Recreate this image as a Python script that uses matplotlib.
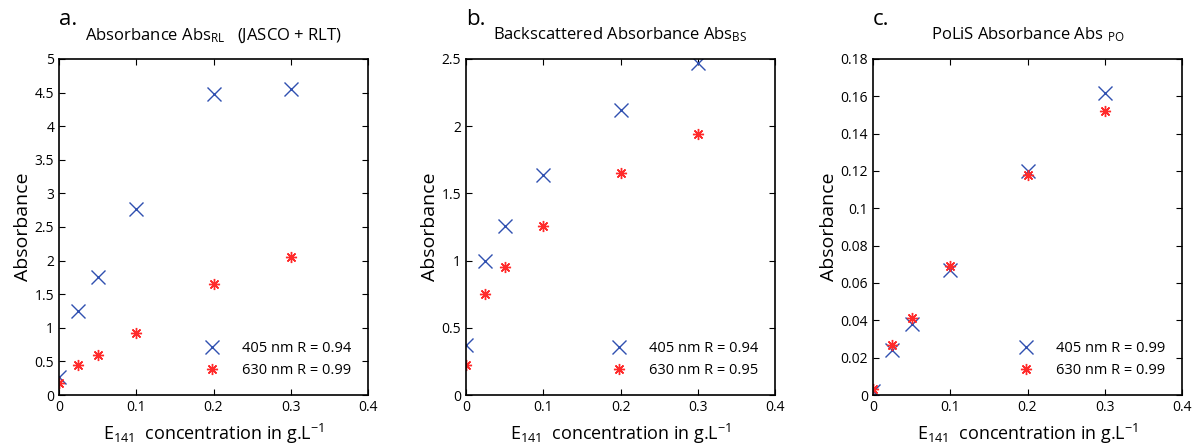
import matplotlib.pyplot as plt

plt.rcParams['font.family'] = ['Open Sans', 'DejaVu Sans']
plt.rcParams['mathtext.fontset'] = 'custom'
plt.rcParams['mathtext.rm'] = 'Open Sans'
plt.rcParams['mathtext.it'] = 'Open Sans'

conc = [0, 0.025, 0.05, 0.1, 0.2, 0.3]

rl_405 = [0.27, 1.25, 1.75, 2.77, 4.48, 4.55]
rl_630 = [0.18, 0.45, 0.60, 0.93, 1.65, 2.05]
bs_405 = [0.37, 1.00, 1.26, 1.64, 2.12, 2.47]
bs_630 = [0.22, 0.75, 0.95, 1.26, 1.65, 1.94]
po_405 = [0.002, 0.024, 0.038, 0.067, 0.120, 0.162]
po_630 = [0.003, 0.027, 0.041, 0.069, 0.118, 0.152]

letters = ['a.', 'b.', 'c.']
titles = [r'Absorbance Abs$_{\mathrm{RL}}$   (JASCO + RLT)',
          r'Backscattered Absorbance Abs$_{\mathrm{BS}}$',
          r'PoLiS Absorbance Abs $_{\mathrm{PO}}$']
leg_405 = ['405 nm R = 0.94', '405 nm R = 0.94', '405 nm R = 0.99']
leg_630 = ['630 nm R = 0.99', '630 nm R = 0.95', '630 nm R = 0.99']
ylims = [(0, 5), (0, 2.5), (0, 0.18)]
yticks = [[0, 0.5, 1, 1.5, 2, 2.5, 3, 3.5, 4, 4.5, 5],
          [0, 0.5, 1, 1.5, 2, 2.5],
          [0, 0.02, 0.04, 0.06, 0.08, 0.1, 0.12, 0.14, 0.16, 0.18]]
series = [(rl_405, rl_630), (bs_405, bs_630), (po_405, po_630)]

fig = plt.figure(figsize=(11.99, 4.48), dpi=100)
lefts = [59, 466, 873]
W, H = 1199, 448
for i in range(3):
    ax = fig.add_axes([lefts[i] / W, (H - 395) / H, 309 / W, 336 / H])
    s405, s630 = series[i]
    ax.plot(conc, s405, 'x', color='#3050b0', ms=10, mew=1.0, label=leg_405[i])
    # matlab style asterisk
    ax.plot(conc, s630, marker=(8, 2, 0), ls='none', color='#ff2a2a', ms=8, mew=1.0,
            label=leg_630[i])
    ax.set_xlim(0, 0.4)
    ax.set_ylim(*ylims[i])
    ax.set_xticks([0, 0.1, 0.2, 0.3, 0.4])
    ax.set_xticklabels(['0', '0.1', '0.2', '0.3', '0.4'])
    ax.set_yticks(yticks[i])
    ax.set_yticklabels([('%g' % v) for v in yticks[i]])
    ax.tick_params(direction='in', top=True, right=True, labelsize=10, length=4)
    for sp in ax.spines.values():
        sp.set_linewidth(1.2)
    ax.set_ylabel('Absorbance', fontsize=14, labelpad=2)
    ax.set_xlabel(r'E$_{141}$  concentration in g.L$^{-1}$', fontsize=13, labelpad=5)
    ax.set_title(titles[i], fontsize=12, pad=14)
    ax.text(0.0, 1.1, letters[i], transform=ax.transAxes, fontsize=16)
    ax.legend(loc='lower right', frameon=False, fontsize=10.5, handlelength=1.5,
              bbox_to_anchor=(0.98, 0.02), handletextpad=1.3, borderaxespad=0.3,
              labelspacing=0.5)

fig.savefig('out.png', dpi=100)
